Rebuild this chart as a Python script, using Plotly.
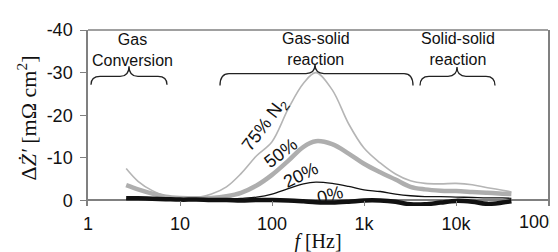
import plotly.graph_objects as go

# ---- data ----
freq_hz = [2.6, 3.5, 5, 7, 10, 15, 22, 32, 46, 68, 100, 150, 220, 300, 450, 680,
           1000, 1500, 2200, 3200, 4600, 6800, 10000, 15000, 22000, 32000, 40000]
dz_75 = [-7.5, -4.5, -2.3, -1.0, -0.4, -0.6, -1.5, -3.2, -6.3, -10.5, -13.8, -21.5,
         -27.5, -30.0, -26.0, -18.0, -12.3, -8.8, -6.2, -4.6, -4.0, -3.9, -4.0, -3.7,
         -3.0, -2.4, -2.0]
dz_50 = [-3.6, -2.6, -1.6, -0.9, -0.6, -0.5, -0.6, -1.0, -1.8, -3.5, -6.0, -9.3,
         -12.6, -13.9, -13.2, -11.0, -8.6, -6.6, -4.9, -3.2, -2.6, -2.3, -2.2, -2.0,
         -1.8, -1.6, -1.5]
dz_20 = [-0.3, -0.3, -0.2, -0.2, -0.2, -0.2, -0.2, -0.3, -0.5, -0.8, -1.5, -2.8,
         -3.9, -4.3, -4.0, -3.3, -2.5, -2.1, -1.5, -1.1, -0.9, -0.9, -0.8, -0.7,
         -0.6, -0.6, -0.5]
dz_0 = [-0.5, -0.5, -0.4, -0.3, -0.2, -0.2, -0.1, -0.1, 0.0, -0.1, -0.1, 0.0,
        0.2, 0.4, 0.5, 0.3, 0.0, 0.0, 0.3, 0.9, 0.9, 0.5, 0.1, 0.3, 0.8, 0.5, 0.2]

x_tickvals = [1, 10, 100, 1000, 10000]
x_ticktext = ["1", "10", "100", "1k", "10k"]
x_last_label = "100k"
y_tickvals = [-40, -30, -20, -10, 0]
y_ticktext = ["-40", "-30", "-20", "-10", "0"]

# ---- layout geometry (pixels) ----
W, H = 558, 252
ML, MR, MT, MB = 80, 18, 16, 46
PW, PH = W - ML - MR, H - MT - MB


def px(x):
    return (x - ML) / PW


def py(y):
    return (H - MB - y) / PH


def brace(x0, x1, xt, y_end, y_mid, y_tip, r=9):
    pts = [
        f"M {px(x0)},{py(y_end)}",
        f"Q {px(x0)},{py(y_mid)} {px(x0 + r)},{py(y_mid)}",
        f"L {px(xt - r)},{py(y_mid)}",
        f"Q {px(xt)},{py(y_mid)} {px(xt)},{py(y_tip)}",
        f"Q {px(xt)},{py(y_mid)} {px(xt + r)},{py(y_mid)}",
        f"L {px(x1 - r)},{py(y_mid)}",
        f"Q {px(x1)},{py(y_mid)} {px(x1)},{py(y_end)}",
    ]
    return dict(type="path", xref="paper", yref="paper", path=" ".join(pts),
                line=dict(color="#222222", width=1.3))


GRAY = "#808080"
SANS = "Liberation Sans, Arial, sans-serif"
SERIF = "Liberation Serif, Times New Roman, serif"

fig = go.Figure()
fig.add_trace(go.Scatter(x=freq_hz, y=dz_75, mode="lines", line=dict(color="#b5b5b5", width=1.6, shape="spline")))
fig.add_trace(go.Scatter(x=freq_hz, y=dz_50, mode="lines", line=dict(color="#aeaeae", width=4.5, shape="spline")))
fig.add_trace(go.Scatter(x=freq_hz, y=dz_20, mode="lines", line=dict(color="#111111", width=1.3, shape="spline")))
fig.add_trace(go.Scatter(x=freq_hz, y=dz_0, mode="lines", line=dict(color="#111111", width=4.5, shape="spline")))

annotations = [
    dict(text="Gas<br>Conversion", x=px(124), y=py(38)),
    dict(text="Gas-solid<br>reaction", x=px(308), y=py(36)),
    dict(text="Solid-solid<br>reaction", x=px(450), y=py(36)),
    dict(text="75% N<sub>2</sub>", x=px(257), y=py(119), textangle=-53, size=18),
    dict(text="50%", x=px(273), y=py(149), textangle=-37, size=18),
    dict(text="20%", x=px(293), y=py(173), textangle=-26, size=18),
    dict(text="0%", x=px(322), y=py(194), textangle=-15, size=18),
]
ann = []
for a in annotations:
    ann.append(dict(text=a["text"], x=a["x"], y=a["y"], xref="paper", yref="paper",
                    xanchor="center", yanchor="middle", showarrow=False,
                    textangle=a.get("textangle", 0),
                    font=dict(family=SANS, size=a.get("size", 16), color="#111111")))
ann.append(dict(text=x_last_label, x=px(553), y=py(223), xref="paper", yref="paper",
                xanchor="right", yanchor="middle", showarrow=False,
                font=dict(family=SANS, size=18, color="#111111")))

shapes = [
    brace(83, 159, 121, 75, 66, 55),
    brace(212, 405, 307, 76, 63, 53),
    brace(412, 487, 449, 76, 66, 56),
    dict(type="line", xref="paper", yref="paper", x0=0, x1=1, y0=1, y1=1,
         line=dict(color=GRAY, width=1.5)),
]

fig.update_layout(
    width=W, height=H,
    margin=dict(l=ML, r=MR, t=MT, b=MB, pad=0),
    paper_bgcolor="white", plot_bgcolor="white",
    showlegend=False,
    annotations=ann, shapes=shapes,
    xaxis=dict(type="log", range=[0, 5], showline=False, showgrid=False, zeroline=False,
               ticks="inside", ticklen=5, tickcolor=GRAY, tickwidth=1.3,
               tickvals=x_tickvals, ticktext=x_ticktext, ticklabelstandoff=5,
               tickfont=dict(family=SANS, size=18, color="#111111"),
               title=dict(text="<i>f</i> [Hz]", standoff=0,
                          font=dict(family=SERIF, size=20, color="#111111"))),
    yaxis=dict(range=[1.3, -40], showline=True, mirror=True, linecolor=GRAY, linewidth=1.5,
               showgrid=False, zeroline=True, zerolinecolor=GRAY, zerolinewidth=1.5,
               ticks="outside", ticklen=6, tickcolor=GRAY, tickwidth=1.3,
               tickvals=y_tickvals, ticktext=y_ticktext, ticklabelstandoff=4,
               tickfont=dict(family=SANS, size=18, color="#111111"),
               title=dict(text="Δ<i>Ż′</i> [mΩ cm<sup>2</sup>]", standoff=4,
                          font=dict(family=SERIF, size=22, color="#111111"))),
)

fig.write_html("out.html")
